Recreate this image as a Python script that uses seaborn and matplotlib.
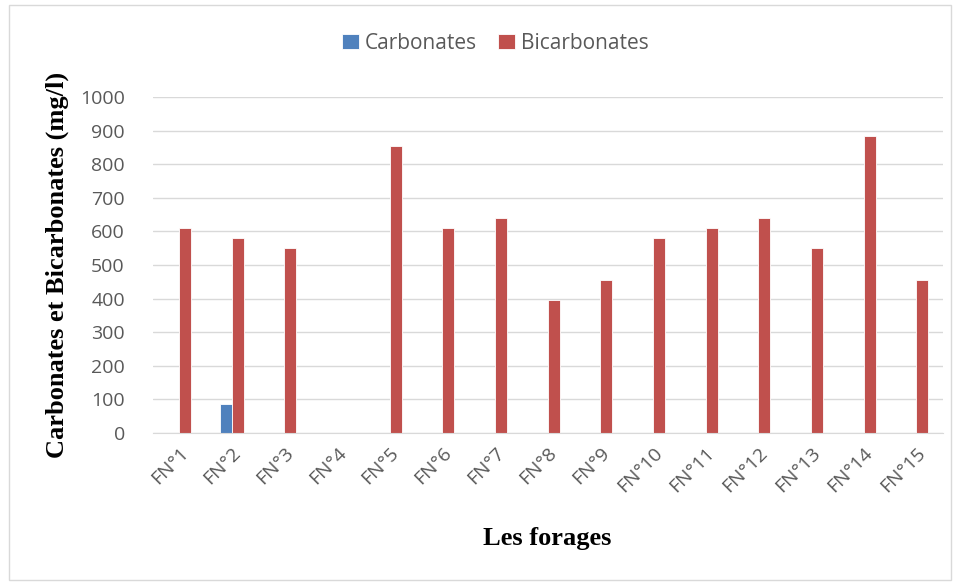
import pandas as pd
import seaborn as sns
from matplotlib import pyplot as plt
from matplotlib.patches import Rectangle

forages = ["FN°1", "FN°2", "FN°3", "FN°4", "FN°5", "FN°6", "FN°7", "FN°8",
           "FN°9", "FN°10", "FN°11", "FN°12", "FN°13", "FN°14", "FN°15"]
carbonates = [0, 85, 0, 0, 0, 0, 0, 0, 0, 0, 0, 0, 0, 0, 0]
bicarbonates = [610, 580, 550, 0, 855, 610, 640, 396, 455, 580, 610, 640, 550, 885, 455]

series = ["Carbonates", "Bicarbonates"]
colors = ["#4F81BD", "#C0504D"]

df = pd.DataFrame({"forage": forages, "Carbonates": carbonates, "Bicarbonates": bicarbonates})
df_long = df.melt(id_vars="forage", var_name="ion", value_name="conc")

sns.set_style("white")
fig = plt.figure(figsize=(9.6, 5.84), dpi=100)
ax = fig.add_axes([0.159, 0.2586, 0.823, 0.5754])

sns.barplot(data=df_long, x="forage", y="conc", hue="ion", hue_order=series,
            palette=colors, saturation=1, width=0.46, gap=0, ax=ax,
            edgecolor="white", linewidth=0.6)

ax.set_ylim(0, 1000)
ax.set_yticks(range(0, 1001, 100))
ax.yaxis.grid(True, color="#d9d9d9", linewidth=1)
ax.set_axisbelow(True)
for s in ["top", "right", "left"]:
    ax.spines[s].set_visible(False)
ax.spines["bottom"].set_color("#d9d9d9")
ax.tick_params(axis="both", length=0, colors="#595959", labelsize=14)
ax.tick_params(axis="y", pad=20)
ax.tick_params(axis="x", pad=8)
plt.setp(ax.get_xticklabels(), rotation=45, ha="right", rotation_mode="anchor",
         family="Open Sans")
plt.setp(ax.get_yticklabels(), family="Open Sans")

ax.set_xlabel("Les forages", family="Liberation Serif", fontweight="bold",
              fontsize=19, color="black", labelpad=22)
ax.set_ylabel("Carbonates et Bicarbonates (mg/l)", family="Liberation Serif",
              fontweight="bold", fontsize=19, color="black", labelpad=8)

handles, labels = ax.get_legend_handles_labels()
ax.legend_.remove()
leg = fig.legend(handles, labels, loc="center", bbox_to_anchor=(0.516, 0.926), ncol=2,
                 frameon=False, handlelength=0.8, handleheight=0.8, handletextpad=0.3,
                 columnspacing=1.0, prop={"family": "Open Sans", "size": 15})
for t in leg.get_texts():
    t.set_color("#595959")

fig.patches.append(Rectangle((0.009, 0.007), 0.982, 0.985, transform=fig.transFigure,
                             fill=False, edgecolor="#d9d9d9", linewidth=1))

fig.savefig("out.png", dpi=100)
